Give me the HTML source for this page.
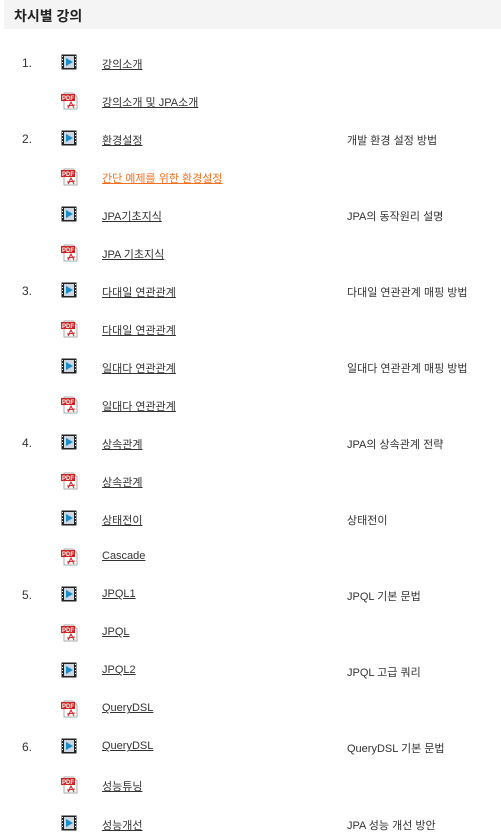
<!DOCTYPE html>
<html><head><meta charset="utf-8">
<style>
body{margin:0;width:501px;height:838px;background:#fff;font-family:"Liberation Sans","Noto Sans CJK KR",sans-serif;color:#333;position:relative;overflow:hidden}
.hdr{position:absolute;left:4px;top:0;width:497px;height:29px;background:#f4f4f4}
.hdr span{position:absolute;left:10px;top:6px;font-size:14px;font-weight:bold;color:#222}
.row{position:absolute;left:0;width:501px;height:20px;font-size:11px}
.num{position:absolute;left:22px;top:2px;font-size:12px}
.ic{position:absolute;left:61px;top:0}
.lk{position:absolute;left:102px;top:2px;color:#333;text-decoration:underline}
.lk.hot{color:#f07020}
.ds{position:absolute;left:347px;top:2px}
</style></head><body>
<div class="hdr"><span>차시별 강의</span></div>
<div id="list"></div>
<script>
var rows=[
["1.","v","강의소개",""],
["","p","강의소개 및 JPA소개",""],
["2.","v","환경설정","개발 환경 설정 방법"],
["","p","간단 예제를 위한 환경설정","",1],
["","v","JPA기초지식","JPA의 동작원리 설명"],
["","p","JPA 기초지식",""],
["3.","v","다대일 연관관계","다대일 연관관계 매핑 방법"],
["","p","다대일 연관관계",""],
["","v","일대다 연관관계","일대다 연관관계 매핑 방법"],
["","p","일대다 연관관계",""],
["4.","v","상속관계","JPA의 상속관계 전략"],
["","p","상속관계",""],
["","v","상태전이","상태전이"],
["","p","Cascade",""],
["5.","v","JPQL1","JPQL 기본 문법"],
["","p","JPQL",""],
["","v","JPQL2","JPQL 고급 쿼리"],
["","p","QueryDSL",""],
["6.","v","QueryDSL","QueryDSL 기본 문법"],
["","p","성능튜닝",""],
["","v","성능개선","JPA 성능 개선 방안"]];
var vid='<svg width="16" height="16"><rect x="0.5" y="0.5" width="15" height="15" fill="#222"/><rect x="3" y="2" width="10" height="12" fill="#cfd8de"/><polygon points="5,4 12,8 5,12" fill="#1a8fd0"/><g fill="#fff"><rect x="1" y="2" width="1" height="1"/><rect x="1" y="5" width="1" height="1"/><rect x="1" y="8" width="1" height="1"/><rect x="1" y="11" width="1" height="1"/><rect x="14" y="2" width="1" height="1"/><rect x="14" y="5" width="1" height="1"/><rect x="14" y="8" width="1" height="1"/><rect x="14" y="11" width="1" height="1"/></g></svg>';
var pdf='<svg width="17" height="18"><polygon points="3,1 12,1 16,5 16,17 3,17" fill="#fff" stroke="#aaa"/><rect x="0" y="2" width="14" height="7" fill="#d02020"/><text x="1" y="8" font-size="6" font-weight="bold" fill="#fff" font-family="Liberation Sans">PDF</text><path d="M7,16 L10,10 L13,16 M6,14 L14,13" stroke="#d02020" fill="none"/></svg>';
var L=document.getElementById('list');
rows.forEach(function(r,i){
 var d=document.createElement('div');d.className='row';d.style.top=(53.5+i*38.05)+'px';
 
 
 var h='';
 if(r[0])h+='<span class="num">'+r[0]+'</span>';
 h+='<span class="ic">'+(r[1]=='v'?vid:pdf)+'</span>';
 h+='<a class="lk'+(r[4]?' hot':'')+'">'+r[2]+'</a>';
 if(r[3])h+='<span class="ds">'+r[3]+'</span>';
 d.innerHTML=h;L.appendChild(d);
});
</script>
</body></html>
